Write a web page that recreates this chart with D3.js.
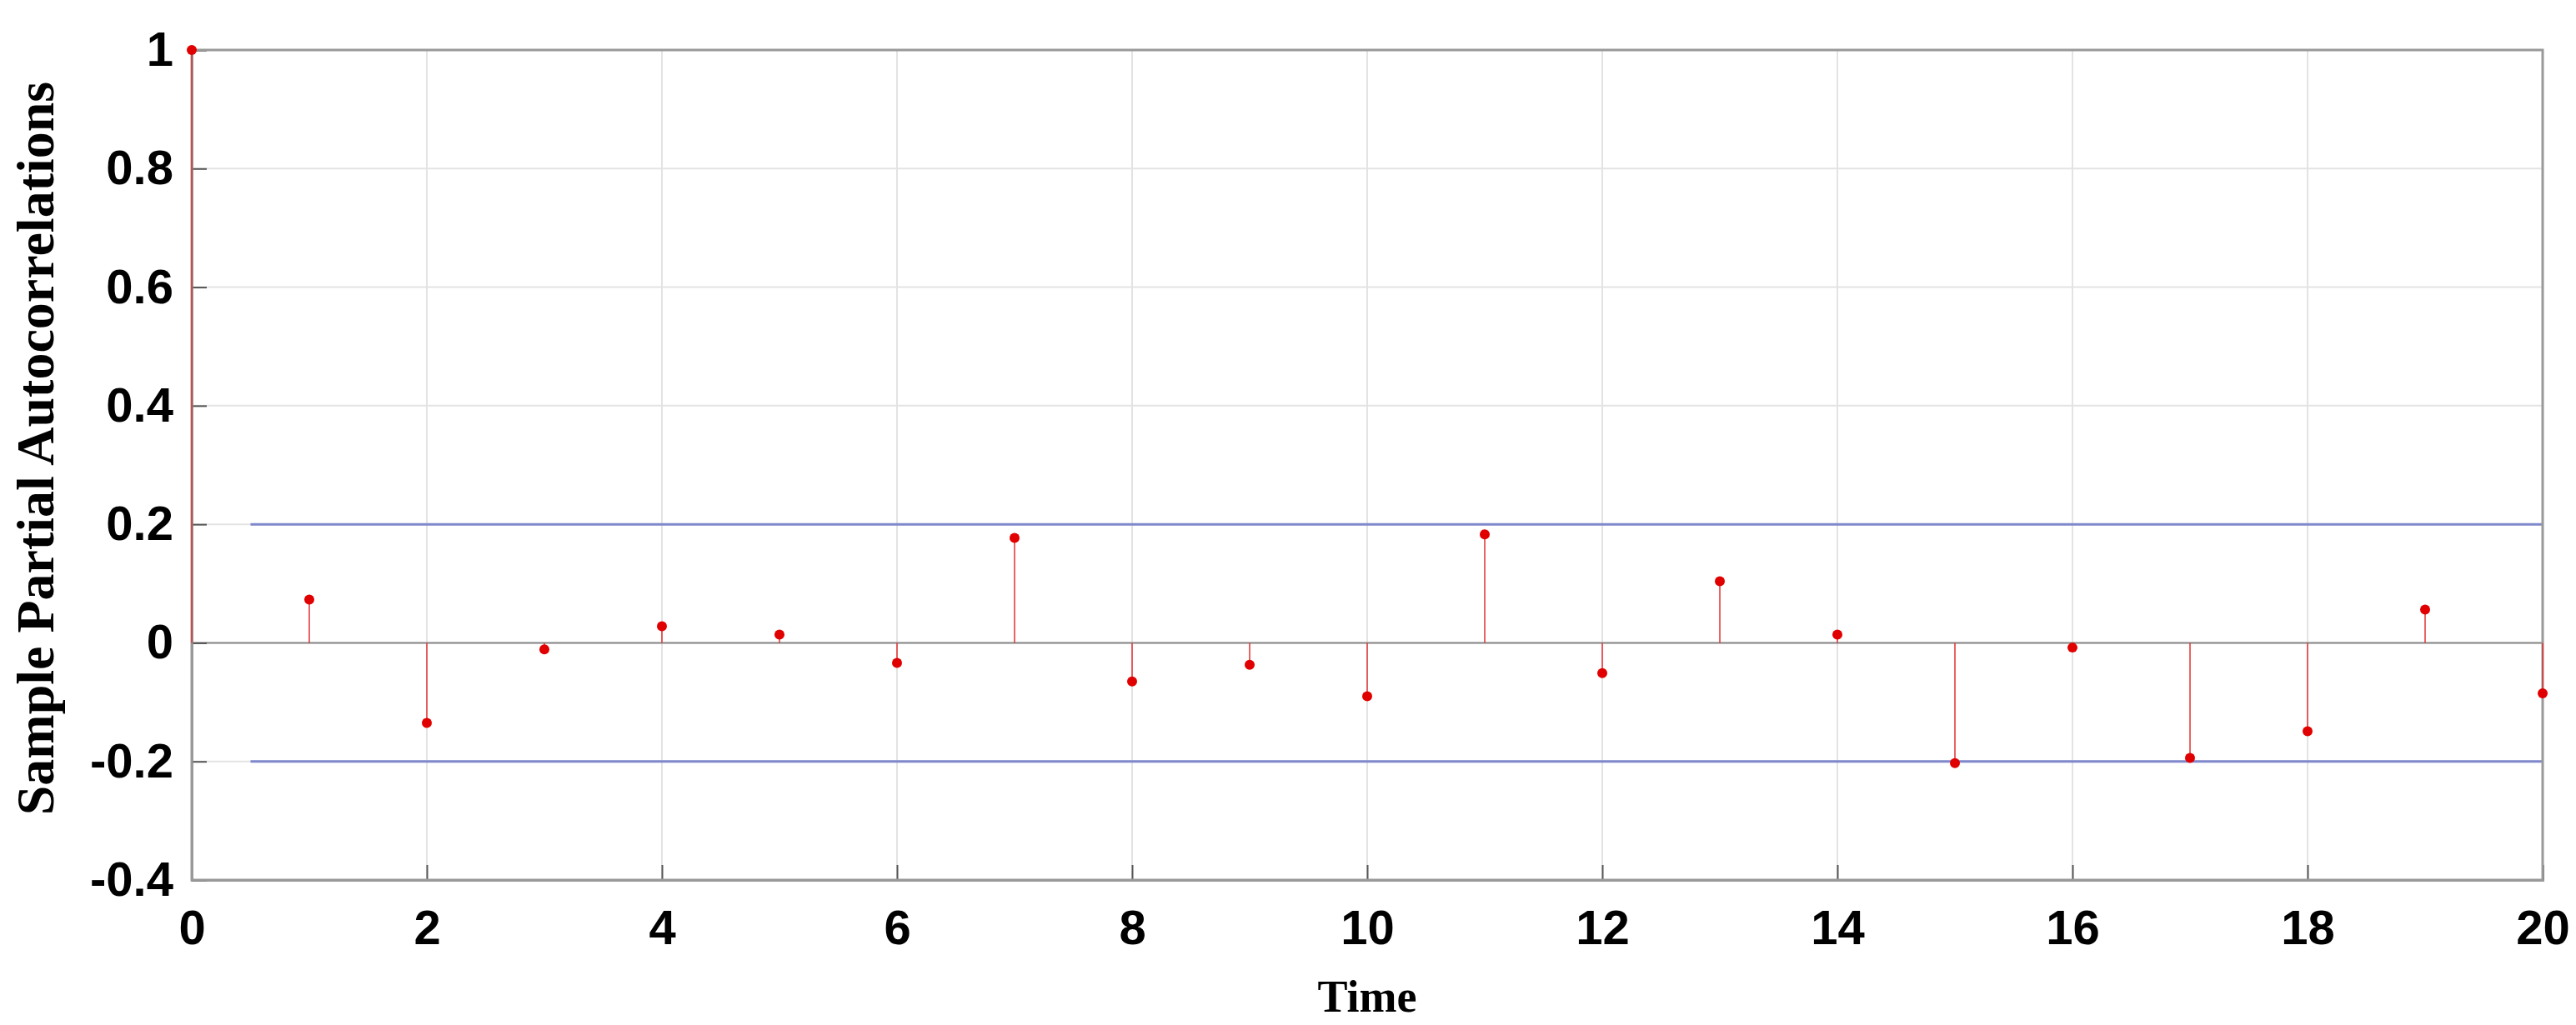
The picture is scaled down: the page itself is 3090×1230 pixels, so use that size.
<!DOCTYPE html>
<html><head><meta charset="utf-8">
<script src="https://cdn.jsdelivr.net/npm/d3@7"></script>
<style>body{margin:0;background:#fff}</style>
</head><body><div id="chart"></div>
<script>
const lags = d3.range(0, 21)
const pacf = [1, 0.073, -0.135, -0.011, 0.028, 0.014, -0.034, 0.177, -0.065, -0.037, -0.09,
  0.183, -0.051, 0.104, 0.014, -0.203, -0.008, -0.194, -0.149, 0.056, -0.085]
const bound = 0.2
const boundStart = 0.5
const xTicks = d3.range(0, 21, 2)
const yTicks = [-0.4, -0.2, 0, 0.2, 0.4, 0.6, 0.8, 1]

const W = 3090, H = 1230
const margin = { top: 60, right: 40, bottom: 174, left: 230 }
const w = W - margin.left - margin.right
const h = H - margin.top - margin.bottom

const svg = d3.select('#chart').append('svg').attr('width', W).attr('height', H)
const g = svg.append('g').attr('transform', `translate(${margin.left},${margin.top})`)

const x = d3.scaleLinear().domain([0, 20]).range([0, w])
const y = d3.scaleLinear().domain([-0.4, 1]).range([h, 0])

// grid
g.selectAll('.gx').data(xTicks).join('line')
  .attr('x1', d => x(d)).attr('x2', d => x(d)).attr('y1', 0).attr('y2', h)
  .attr('stroke', '#e3e3e3').attr('stroke-width', 2)
g.selectAll('.gy').data(yTicks).join('line')
  .attr('x1', 0).attr('x2', w).attr('y1', d => y(d)).attr('y2', d => y(d))
  .attr('stroke', '#e3e3e3').attr('stroke-width', 2)

// zero line
g.append('line').attr('x1', 0).attr('x2', w).attr('y1', y(0)).attr('y2', y(0))
  .attr('stroke', '#888').attr('stroke-width', 2)

// confidence bounds
;[bound, -bound].forEach(b => {
  g.append('line').attr('x1', x(boundStart)).attr('x2', w).attr('y1', y(b)).attr('y2', y(b))
    .attr('stroke', '#8088cc').attr('stroke-width', 3)
})

// axes (hyphen minus like the original)
const fmt = d => d === 0 || d === 1 ? String(d) : d3.format('.1f')(d).replace('−', '-')
const xa = g.append('g').attr('transform', `translate(0,${h})`)
  .call(d3.axisBottom(x).tickValues(xTicks).tickSize(-18).tickPadding(36).tickFormat(d => d))
const ya = g.append('g')
  .call(d3.axisLeft(y).tickValues(yTicks).tickSize(-18).tickPadding(22).tickFormat(fmt))
;[xa, ya].forEach(a => {
  a.select('.domain').attr('stroke', '#999').attr('stroke-width', 3)
  a.selectAll('line').attr('stroke', '#555').attr('stroke-width', 2)
  a.selectAll('text').attr('font-family', 'Liberation Sans, Arial, sans-serif')
    .attr('font-weight', 'bold').attr('font-size', 58).attr('fill', '#000')
})
g.append('rect').attr('width', w).attr('height', h).attr('fill', 'none')
  .attr('stroke', '#999').attr('stroke-width', 3)

// stems
const data = lags.map((l, i) => ({ lag: l, v: pacf[i] }))
g.selectAll('.stem').data(data).join('line')
  .attr('x1', d => x(d.lag)).attr('x2', d => x(d.lag))
  .attr('y1', y(0)).attr('y2', d => y(d.v))
  .attr('stroke', '#e23030').attr('stroke-width', 1.5)
g.selectAll('.dot').data(data).join('circle')
  .attr('cx', d => x(d.lag)).attr('cy', d => y(d.v)).attr('r', 6)
  .attr('fill', '#e00000')

// labels
svg.append('text').attr('x', margin.left + w / 2).attr('y', 1214)
  .attr('text-anchor', 'middle').attr('font-family', 'Liberation Serif, Times New Roman, serif')
  .attr('font-weight', 'bold').attr('font-size', 54).text('Time')
svg.append('text').attr('transform', `translate(64,${margin.top + h / 2 - 20}) rotate(-90)`)
  .attr('text-anchor', 'middle').attr('font-family', 'Liberation Serif, Times New Roman, serif')
  .attr('font-weight', 'bold').attr('font-size', 64).text('Sample Partial Autocorrelations')
</script></body></html>
